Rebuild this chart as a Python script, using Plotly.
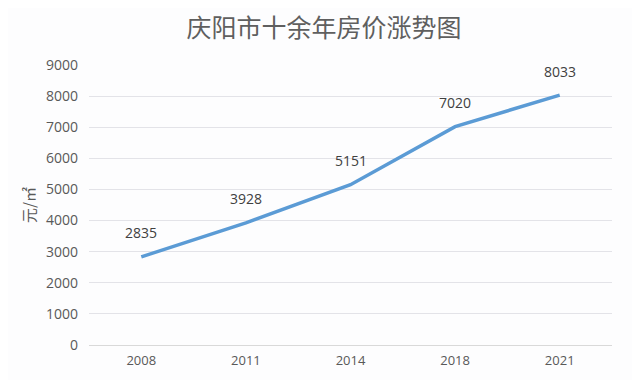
import plotly.graph_objects as go

years = ["2008", "2011", "2014", "2018", "2021"]
prices = [2835, 3928, 5151, 7020, 8033]
y_ticks = list(range(0, 9001, 1000))

fig = go.Figure()
fig.add_trace(go.Scatter(
    x=years, y=prices, mode="lines",
    line=dict(color="#5b9bd5", width=3.5),
    hoverinfo="x+y",
))
for i, y in enumerate(prices):
    fig.add_annotation(x=i, y=y, text=str(y), showarrow=False, yshift=24,
                       font=dict(size=14, color="#404040", family="Open Sans, sans-serif"))

fig.update_layout(
    width=632, height=372,
    paper_bgcolor="#fdfdfe", plot_bgcolor="#fdfdfe",
    margin=dict(l=81, r=28, t=57, b=35),
    title=dict(text="庆阳市十余年房价涨势图", x=0.5, xanchor="center",
               yref="container", y=0.946, yanchor="middle",
               font=dict(size=25, color="#5f5f5f", family="Noto Sans CJK SC")),
    showlegend=False,
    font=dict(family="Open Sans, sans-serif", color="#595959", size=12),
)
fig.update_xaxes(type="category", range=[-0.5, 4.5], showgrid=False, showline=False, ticks="",
                 ticklabelstandoff=6, automargin=False,
                 tickfont=dict(size=13, color="#595959"))
fig.update_yaxes(range=[0, 9000], tickvals=y_ticks, showgrid=True, gridcolor="#e3e3e8",
                 gridwidth=1, zeroline=True, zerolinecolor="#d9d9d9", zerolinewidth=1,
                 showline=False, ticks="", ticklen=0, ticklabelstandoff=10, automargin=False,
                 tickfont=dict(size=14, color="#595959"),
                 title=dict(text="元/㎡", font=dict(size=15, color="#595959", family="Noto Sans CJK SC"), standoff=6))

fig.write_html("out.html")
